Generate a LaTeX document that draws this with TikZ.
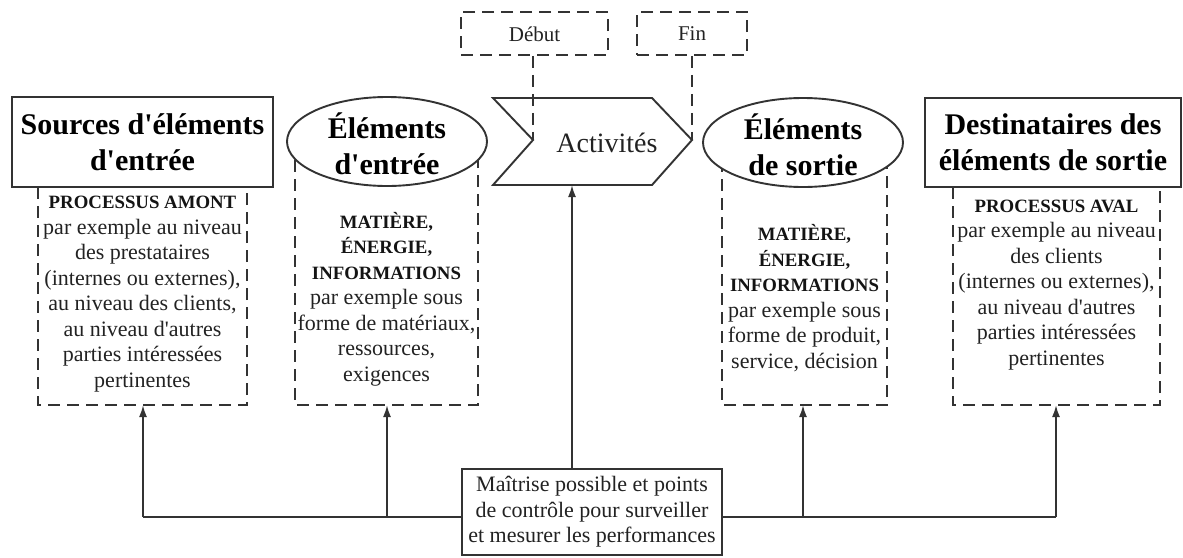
\documentclass[tikz,border=0pt]{standalone}
\usepackage{fontspec}
\setmainfont{Liberation Serif}
\usetikzlibrary{arrows.meta,shapes.geometric}
\definecolor{linec}{HTML}{333333}
\definecolor{textc}{HTML}{222222}
\newcommand\ap{\textquotesingle}
\newcommand\capsline[1]{{\fontsize{18.8}{25.5}\selectfont\bfseries\color{black!92}#1}}
\tikzset{
  solidline/.style={draw=linec, line width=1.9pt},
  dashbox/.style={draw=linec, line width=1.9pt, dash pattern=on 12pt off 7pt},
  head/.style={font=\fontsize{30}{36}\selectfont\bfseries, align=center, text=black, inner sep=0pt},
  body/.style={font=\fontsize{22}{25.5}\selectfont, align=center, text=textc, inner sep=0pt},
  small/.style={font=\fontsize{21}{24}\selectfont, text=textc, inner sep=0pt},
  arr/.style={solidline, -{Latex[length=12pt,width=8pt]}},
}
\begin{document}
\begin{tikzpicture}[x=1pt,y=-1pt]
\useasboundingbox (0,0) rectangle (1183,557);

% dashed bodies (open at the top, hidden by the headers)
\draw[dashbox] (38,187) -- (38,405) -- (247,405) -- (247,187);
\draw[dashbox] (295,160) -- (295,405) -- (478,405) -- (478,160);
\draw[dashbox] (722,160) -- (722,405) -- (887,405) -- (887,160);
\draw[dashbox] (953,187) -- (953,405) -- (1160,405) -- (1160,187);

% header shapes
\node[solidline, fill=white, rectangle, minimum width=261pt, minimum height=90pt, inner sep=0pt] (srcbox) at (142.5,142) {};
\node[solidline, fill=white, ellipse, minimum width=200pt, minimum height=89pt, inner sep=0pt] (inell) at (387,141.5) {};
\node[solidline, fill=white, ellipse, minimum width=200pt, minimum height=89pt, inner sep=0pt] (outell) at (803,142.5) {};
\node[solidline, fill=white, rectangle, minimum width=256pt, minimum height=89pt, inner sep=0pt] (dstbox) at (1053,142.5) {};

% activity chevron
\draw[solidline, fill=white] (493,98) -- (652,98) -- (692,140) -- (652,185) -- (493,185) -- (533,140) -- cycle;
\coordinate (notch) at (533,140);
\coordinate (tip) at (692,140);
\coordinate (chevbot) at (572,185);
\node[font=\fontsize{28}{32}\selectfont, text=textc, inner sep=0pt] (act) at (607,143) {Activités};

% start / end markers
\node[dashbox, minimum width=147pt, minimum height=43pt, inner sep=0pt] (debut) at (534.5,33.5) {};
\node[small] (debuttxt) at (534.5,34) {Début};
\node[dashbox, minimum width=110pt, minimum height=43pt, inner sep=0pt] (fin) at (692,33.5) {};
\node[small] (fintxt) at (692,34) {Fin};
\draw[dashbox] (debut.south -| notch) -- (notch);
\draw[dashbox] (fin.south -| tip) -- (tip);

% header texts
\node[head] (srchead) at (142.5,142) {Sources d\ap éléments\\d\ap entrée};
\node[head] (inhead) at (387,144) {Éléments\\d\ap entrée};
\node[head] (outhead) at (803,145) {Éléments\\de sortie};
\node[head] (dsthead) at (1053,142) {Destinataires des\\éléments de sortie};

% body texts
\node[body] (srctxt) at (142.5,294) {\capsline{PROCESSUS AMONT}\\par exemple au niveau\\des prestataires\\(internes ou externes),\\au niveau des clients,\\au niveau d\ap autres\\parties intéressées\\pertinentes};
\node[body] (intxt) at (386.5,299) {\capsline{MATIÈRE,}\\\capsline{ÉNERGIE,}\\\capsline{INFORMATIONS}\\par exemple sous\\forme de matériaux,\\ressources,\\exigences};
\node[body] (outtxt) at (804.5,298) {\capsline{MATIÈRE,}\\\capsline{ÉNERGIE,}\\\capsline{INFORMATIONS}\\par exemple sous\\forme de produit,\\service, décision};
\node[body] (dsttxt) at (1056.5,285) {\capsline{PROCESSUS AVAL}\\par exemple au niveau\\des clients\\(internes ou externes),\\au niveau d\ap autres\\parties intéressées\\pertinentes};

% control box and its feedback lines
\node[solidline, fill=white, rectangle, minimum width=260pt, minimum height=86pt, inner sep=0pt] (ctrl) at (592,512) {};
\node[body] (ctrltxt) at (592,512) {Maîtrise possible et points\\de contrôle pour surveiller\\et mesurer les performances};

\coordinate (srcfoot) at (143,405);
\coordinate (infoot) at (387,405);
\coordinate (outfoot) at (803,405);
\coordinate (dstfoot) at (1056,405);
\coordinate (busy) at (0,517);

\draw[solidline] (ctrl.west |- busy) -- (srcfoot |- busy);
\draw[solidline] (ctrl.east |- busy) -- (dstfoot |- busy);
\draw[arr] (srcfoot |- busy) -- (srcfoot);
\draw[arr] (infoot |- busy) -- (infoot);
\draw[arr] (outfoot |- busy) -- (outfoot);
\draw[arr] (dstfoot |- busy) -- (dstfoot);
\draw[arr] (ctrl.north -| chevbot) -- (chevbot);
\end{tikzpicture}
\end{document}
